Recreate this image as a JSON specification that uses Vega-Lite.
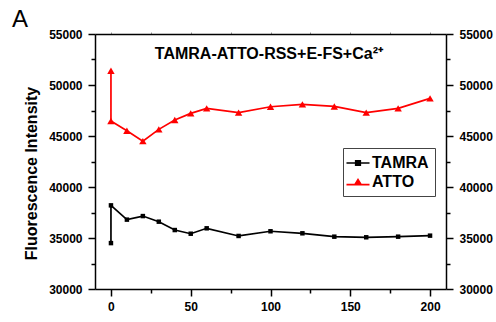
{
  "$schema": "https://vega.github.io/schema/vega-lite/v6.json",
  "autosize": {"type": "none"},
  "width": 351,
  "height": 255,
  "padding": {"left": 95, "top": 34, "right": 50, "bottom": 33},
  "background": "white",
  "title": {"text": "A", "anchor": "start", "frame": "group", "dx": -83, "dy": 28, "offset": 5, "fontSize": 24, "fontWeight": "normal", "font": "Liberation Sans", "baseline": "alphabetic", "color": "black"},
  "config": {
    "view": {"stroke": null},
    "axis": {"domainColor": "black", "domainWidth": 1.5, "tickColor": "black", "tickWidth": 1.5, "labelFont": "Liberation Sans", "labelFontWeight": "bold", "labelFontSize": 12, "labelColor": "black", "grid": false, "labelFlush": false, "labelOverlap": false, "titleFont": "Liberation Sans", "titleColor": "black"}
  },
  "data": {"values": [
    {"series": "TAMRA", "t": 0, "v": 34500},
    {"series": "TAMRA", "t": 0, "v": 38200},
    {"series": "TAMRA", "t": 10, "v": 36800},
    {"series": "TAMRA", "t": 20, "v": 37150},
    {"series": "TAMRA", "t": 30, "v": 36600},
    {"series": "TAMRA", "t": 40, "v": 35780},
    {"series": "TAMRA", "t": 50, "v": 35420},
    {"series": "TAMRA", "t": 60, "v": 35950},
    {"series": "TAMRA", "t": 80, "v": 35200},
    {"series": "TAMRA", "t": 100, "v": 35660},
    {"series": "TAMRA", "t": 120, "v": 35460},
    {"series": "TAMRA", "t": 140, "v": 35130},
    {"series": "TAMRA", "t": 160, "v": 35070},
    {"series": "TAMRA", "t": 180, "v": 35130},
    {"series": "TAMRA", "t": 200, "v": 35230},
    {"series": "ATTO", "t": 0, "v": 51400},
    {"series": "ATTO", "t": 0, "v": 46470},
    {"series": "ATTO", "t": 10, "v": 45520},
    {"series": "ATTO", "t": 20, "v": 44500},
    {"series": "ATTO", "t": 30, "v": 45650},
    {"series": "ATTO", "t": 40, "v": 46570},
    {"series": "ATTO", "t": 50, "v": 47220},
    {"series": "ATTO", "t": 60, "v": 47710},
    {"series": "ATTO", "t": 80, "v": 47290},
    {"series": "ATTO", "t": 100, "v": 47870},
    {"series": "ATTO", "t": 120, "v": 48100},
    {"series": "ATTO", "t": 140, "v": 47900},
    {"series": "ATTO", "t": 160, "v": 47290},
    {"series": "ATTO", "t": 180, "v": 47710},
    {"series": "ATTO", "t": 200, "v": 48690}
  ]},
  "layer": [
    {
      "mark": {"type": "line", "strokeWidth": 1.7},
      "encoding": {
        "x": {"field": "t", "type": "quantitative", "scale": {"domain": [-10, 210], "nice": false, "zero": false},
              "axis": {"orient": "bottom", "values": [0, 50, 100, 150, 200], "tickSize": 7, "labelPadding": 5, "title": null}},
        "y": {"field": "v", "type": "quantitative", "scale": {"domain": [30000, 55000], "nice": false, "zero": false},
              "axis": {"orient": "left", "values": [30000, 35000, 40000, 45000, 50000, 55000], "tickSize": 7, "labelPadding": 6, "format": "d", "title": "Fluorescence Intensity", "titleFontSize": 16, "titleFontWeight": "bold", "titlePadding": 9, "titleY": 139}},
        "color": {"field": "series", "type": "nominal", "scale": {"domain": ["TAMRA", "ATTO"], "range": ["#000000", "#ff0000"]},
                  "legend": {
                    "orient": "none", "legendX": 248, "legendY": 114, "title": null,
                    "strokeColor": "#444", "fillColor": "white", "padding": 6, "rowPadding": 2,
                    "labelFont": "Liberation Sans", "labelFontSize": 16, "labelFontWeight": "bold", "labelColor": "black", "labelOffset": 5,
                    "symbolSize": 300, "symbolStrokeWidth": 0,
                    "encode": {"symbols": {"update": {
                      "shape": {"signal": "datum.value === 'TAMRA' ? 'M-1.33,-0.09H1.33V0.09H-1.33ZM-0.36,-0.36H0.36V0.36H-0.36Z' : 'M-1.33,0.21H1.33V0.39H-1.33ZM0,-0.45L0.5,0.36H-0.5Z'"},
                      "fill": {"signal": "datum.value === 'TAMRA' ? '#000000' : '#ff0000'"},
                      "fillOpacity": {"value": 1},
                      "opacity": {"value": 1}
                    }}}
                  }},
        "order": {"value": null}
      }
    },
    {
      "transform": [{"filter": "datum.series === 'TAMRA'"}],
      "mark": {"type": "point", "filled": true, "opacity": 1, "shape": "square", "size": 20, "color": "#000000"},
      "encoding": {
        "x": {"field": "t", "type": "quantitative",
              "axis": {"orient": "bottom", "values": [25, 75, 125, 175], "tickSize": 4, "labels": false, "domain": false, "title": null}},
        "y": {"field": "v", "type": "quantitative",
              "axis": {"orient": "right", "values": [30000, 35000, 40000, 45000, 50000, 55000], "tickSize": 7, "labelPadding": 6, "format": "d", "title": null}}
      }
    },
    {
      "transform": [{"filter": "datum.series === 'ATTO'"}],
      "mark": {"type": "point", "filled": true, "opacity": 1, "shape": "triangle-up", "size": 55, "color": "#ff0000"},
      "encoding": {
        "x": {"field": "t", "type": "quantitative", "axis": null},
        "y": {"field": "v", "type": "quantitative", "axis": null}
      }
    },
    {
      "data": {"values": [{"label": "TAMRA-ATTO-RSS+E-FS+Ca²⁺"}]},
      "mark": {"type": "text", "font": "Liberation Sans", "fontSize": 16, "fontWeight": "bold", "color": "black", "align": "center", "baseline": "middle"},
      "encoding": {
        "x": {"datum": 99, "type": "quantitative",
              "axis": {"orient": "top", "values": [0, 25, 50, 75, 100, 125, 150, 175, 200], "tickSize": 2, "tickWidth": 1, "tickColor": "#999", "labels": false, "title": null}},
        "y": {"datum": 53000, "type": "quantitative",
              "axis": {"orient": "left", "values": [32500, 37500, 42500, 47500, 52500], "tickSize": 4, "labels": false, "domain": false, "title": null}},
        "text": {"field": "label"}
      }
    },
    {
      "data": {"values": [{"label": ""}]},
      "mark": {"type": "text"},
      "encoding": {
        "x": {"datum": 100, "type": "quantitative", "axis": null},
        "y": {"datum": 40000, "type": "quantitative",
              "axis": {"orient": "right", "values": [32500, 37500, 42500, 47500, 52500], "tickSize": 4, "labels": false, "domain": false, "title": null}},
        "text": {"field": "label"}
      }
    }
  ],
  "resolve": {"axis": {"x": "independent", "y": "independent"}}
}
